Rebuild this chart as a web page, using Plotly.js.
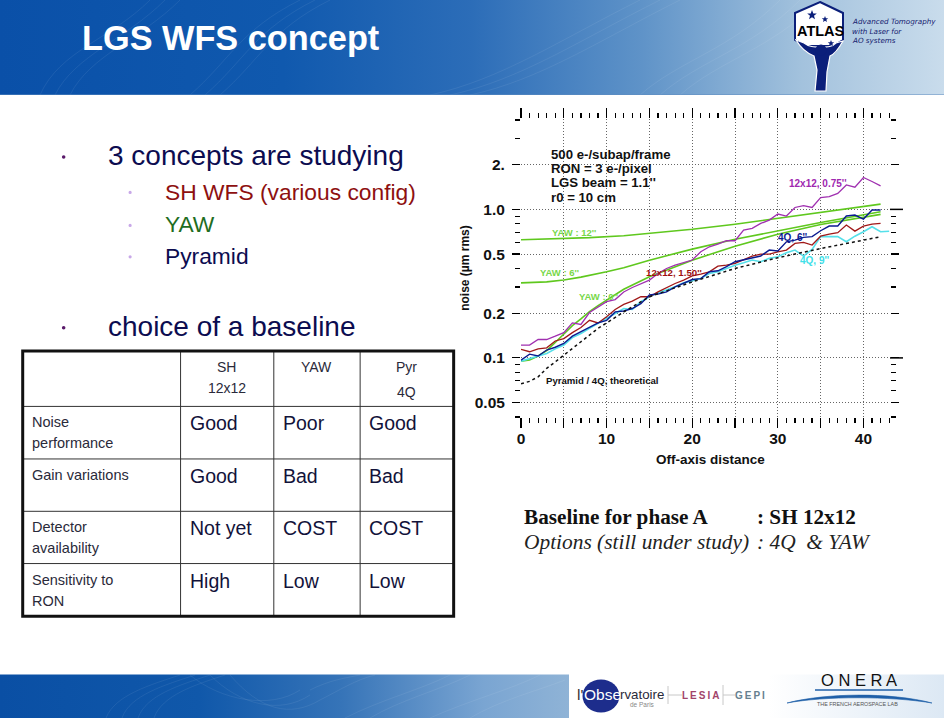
<!DOCTYPE html>
<html><head><meta charset="utf-8">
<script src="https://cdn.plot.ly/plotly-3.0.1.min.js"></script>
<style>
html,body{margin:0;padding:0;background:#fff;overflow:hidden}
#stage{position:relative;width:944px;height:718px}
#bg,#chart{position:absolute;left:0;top:0;width:944px;height:718px}
</style></head><body>
<div id="stage">
<svg id="bg" viewBox="0 0 944 718" xmlns="http://www.w3.org/2000/svg">
<defs>
<linearGradient id="h" x1="0" x2="1" y1="0" y2="0">
<stop offset="0" stop-color="#0a50a8"/><stop offset=".3" stop-color="#1059ae"/><stop offset=".5" stop-color="#2c6db8"/><stop offset=".68" stop-color="#5f93c8"/><stop offset=".85" stop-color="#a3c2dd"/><stop offset="1" stop-color="#c9dcec"/>
</linearGradient>
<linearGradient id="f" x1="0" x2="1" y1="0" y2="0">
<stop offset="0" stop-color="#0a4fa4"/><stop offset=".35" stop-color="#1058aa"/><stop offset=".6" stop-color="#3674b8"/><stop offset=".85" stop-color="#7aa5d2"/><stop offset="1" stop-color="#8fb3d6"/>
</linearGradient>
<linearGradient id="o" x1="0" x2="1" y1="0" y2="0">
<stop offset="0" stop-color="#ffffff"/><stop offset="1" stop-color="#dce8f4"/>
</linearGradient>
</defs>
<rect x="0" y="0" width="944" height="95" fill="url(#h)"/>
<rect x="0" y="674.5" width="569" height="43.5" fill="url(#f)"/>
<rect x="569" y="674.5" width="200" height="43.5" fill="#fff"/>
<rect x="769" y="674.5" width="175" height="43.5" fill="url(#o)"/>
<g fill="none" stroke="#fff" stroke-opacity=".1" stroke-width=".7">
<path d="M40 95C60 50 110 40 150 0"/><path d="M55 95C75 55 125 40 165 0"/><path d="M70 95C90 55 140 40 180 0"/>
<path d="M190 95C230 60 240 30 300 0"/><path d="M205 95C245 60 255 30 315 0"/><path d="M220 95C260 60 270 30 330 0"/>
<path d="M430 95C500 80 560 40 640 0"/><path d="M450 95C520 80 580 40 660 0"/><path d="M470 95C540 80 600 40 680 0"/>
<path d="M640 95C680 60 730 50 780 0"/><path d="M660 95C700 60 750 50 800 0"/><path d="M680 95C720 60 770 50 820 0"/>
<path d="M106 718C115 695 150 685 180 675"/><path d="M122 718C130 695 165 685 195 675"/><path d="M138 718C146 695 180 685 210 675"/><path d="M154 718C162 695 195 685 225 675"/>
<path d="M190 675C220 700 270 710 300 690"/><path d="M210 675C240 705 280 715 310 695"/><path d="M230 675C260 710 290 718 320 700"/>
<path d="M310 690C330 680 345 678 360 675"/><path d="M320 700C340 690 355 680 375 675"/><path d="M345 718C380 700 420 690 450 675"/><path d="M370 718C400 700 440 690 470 675"/><path d="M430 718C470 700 510 690 540 675"/><path d="M470 718C500 700 540 690 565 680"/>
</g>
<rect x="0" y="94" width="944" height="1" fill="#5e8cc0" opacity=".5"/>
<!-- ATLAS badge -->
<path d="M820 2L843 13V40L833 46H806L795 40V13Z" fill="#fff" stroke="#0b1f7a" stroke-width="2"/>
<path d="M796 40C802 50 809 54 814 56L817 70L815 91H826L827 72L830 56C835 54 838 50 843 41L836 43C832 47 828 47 821 47C814 47 809 47 804 43Z" fill="#0b1f7a" stroke="#fff" stroke-width="1.2"/>
<circle cx="821" cy="50" r="5.5" fill="#0b1f7a"/>
<path d="M812 10l1.3 3.4 3.5.2-2.8 2.2 1 3.4-3-2-3 2 1-3.4-2.8-2.2 3.5-.2zM825 16l.9 2.2 2.3.1-1.8 1.5.6 2.2-2-1.3-2 1.3.6-2.2-1.8-1.5 2.3-.1zM831 40l.9 2.2 2.3.1-1.8 1.5.6 2.2-2-1.3-2 1.3.6-2.2-1.8-1.5 2.3-.1z" fill="#0b1f7a"/>
<!-- Observatoire disc and separators -->
<ellipse cx="601" cy="696" rx="18.5" ry="16.5" fill="#1d2d8c"/>
<path d="M668 686V704M723 685V705M668 695H682M723 695H735" stroke="#c8c8c8" stroke-width="1" fill="none"/>
<!-- ONERA swoosh -->
<path d="M815 690H903" stroke="#1f5fa8" stroke-width="1.6" fill="none"/>
<path d="M787 703C825 693 890 692 932 703C890 696 825 696 787 703Z" fill="#1f5fa8" stroke="#1f5fa8" stroke-width=".6"/>
</svg>
<div id="chart"></div>
</div>
<script>
// ---- chart data ----
var offAxis = [0,1,2,3,4,5,6,7,8,9,10,11,12,13,14,15,16,17,18,19,20,21,22,23,24,25,26,27,28,29,30,31,32,33,34,35,36,37,38,39,40,41,42];
var sh075 = [.122,.122,.133,.133,.140,.148,.172,.168,.202,.221,.239,.247,.278,.298,.314,.334,.370,.400,.421,.439,.456,.518,.560,.584,.615,.615,.725,.745,.804,.847,.930,.902,1.03,1.06,1.03,1.20,1.22,1.28,1.46,1.41,1.64,1.54,1.44];
var sh150 = [.114,.110,.115,.117,.130,.135,.148,.160,.179,.172,.189,.212,.229,.241,.258,.258,.278,.298,.317,.334,.357,.366,.380,.415,.421,.433,.460,.485,.500,.500,.518,.532,.590,.600,.575,.660,.682,.696,.784,.714,.772,.796,.804];
var q4_6 = [.0965,.106,.103,.113,.118,.125,.140,.150,.162,.172,.179,.204,.207,.215,.232,.265,.269,.278,.301,.320,.337,.342,.380,.386,.411,.444,.456,.468,.485,.532,.524,.605,.621,.648,.655,.718,.772,.772,.902,.916,.861,.990,.990];
var offAxis9 = [0,1,2,3,4,5,6,7,8,9,10,11,12,13,14,15,16,17,18,19,20,21,22,23,24,25,26,27,28,29,30,31,32,33,34,35,36,37,38,39,40,41,42,43];
var q4_9 = [.095,.099,.102,.107,.115,.122,.137,.146,.158,.170,.184,.199,.215,.212,.239,.258,.274,.286,.301,.320,.329,.342,.370,.380,.400,.421,.437,.456,.444,.468,.480,.511,.532,.485,.538,.655,.655,.655,.605,.660,.707,.764,.707,.712];
var yaw12X = [0,4,8,12,15,20,25,30,35,42];
var yaw12 = [.625,.635,.645,.665,.69,.735,.795,.87,.95,1.085];
var yaw6X = [0,3,5,7,10,12,15,20,25,30,35,42];
var yaw6 = [.32,.325,.335,.35,.38,.405,.455,.54,.63,.72,.815,.965];
var yaw0X = [0,1,2,3,4,5,6,7,8,9,10,12,15,20,25,30,35,42];
var yaw0 = [.095,.097,.103,.112,.127,.145,.165,.183,.205,.225,.245,.29,.352,.455,.565,.68,.79,.925];
var pyrX = [0,1,2,3,4,5,6,7,8,9,10,12,15,20,25,30,35,42];
var pyr = [.067,.0695,.0745,.085,.094,.104,.115,.128,.142,.158,.172,.204,.258,.325,.40,.472,.545,.654];
var xTicks = [0,5,10,15,20,25,30,35,40];
var xLabels = ['0','','10','','20','','30','','40'];
var yTicks = [.05,.1,.2,.5,1,2];
var yLabels = ['0.05','0.1','0.2','0.5','1.0','2.'];
var yMinor = [.04,.06,.07,.08,.09,.3,.4,.6,.7,.8,.9,3,4];
// ---- table text ----
var colHead = [['SH','12x12'],['YAW'],['Pyr','4Q']];
var rowHead = [['Noise','performance'],['Gain variations'],['Detector','availability'],['Sensitivity to','RON']];
var cells = [['Good','Poor','Good'],['Good','Bad','Bad'],['Not yet','COST','COST'],['High','Low','Low']];

var W=944,H=718,L=520.7,R=54,T=119,B=300.7;
function px(x){return (x-L)/(W-L-R);}
function py(y){return 1-(y-T)/(H-T-B);}
var A='Liberation Sans, Arial, sans-serif', S='Liberation Serif, Times New Roman, serif';
var anns=[],shapes=[];
function t(text,x,y,size,color,o){o=o||{};anns.push({text:text,xref:'paper',yref:'paper',x:px(x),y:py(y),xanchor:o.a||'left',yanchor:'middle',showarrow:false,align:o.a||'left',
  font:{family:o.f||A,size:size,color:color,weight:o.b?700:400,style:o.i?'italic':'normal'},textangle:o.r||0,borderpad:0,borderwidth:0});}
function line(x0,y0,x1,y1,c,w){shapes.push({type:'line',xref:'paper',yref:'paper',x0:px(x0),y0:py(y0),x1:px(x1),y1:py(y1),line:{color:c,width:w},layer:'above'});}
function dot(x,y,r,c){shapes.push({type:'circle',xref:'paper',yref:'paper',x0:px(x-r),x1:px(x+r),y0:py(y-r),y1:py(y+r),fillcolor:c,line:{width:0}});}

// slide text
t('LGS WFS concept',81,38,34.3,'#ffffff',{b:1});
var navy='#0c0c50';
t('3 concepts are studying',107,156,28,navy);
t('SH WFS (various config)',164,192,22.8,'#8e1010');
t('YAW',164,224,22.8,'#1f6e1f');
t('Pyramid',164,256,22.8,navy);
t('choice of a baseline',107,327,28,navy);
dot(63,157,1.8,'#5a1a6a');dot(63,328,1.8,'#5a1a6a');
dot(129.5,192.5,1.6,'#c8a8e8');dot(129.5,225.5,1.6,'#c8a8e8');dot(129.5,257,1.6,'#c8a8e8');
t('Baseline for phase A',524,517,21.2,'#111',{f:S,b:1});
t(': SH 12x12',757,517,21.2,'#111',{f:S,b:1});
t('Options (still under study)',524,542,21.4,'#222',{f:S,i:1});
t(': 4Q  &amp; YAW',757,542,21.4,'#222',{f:S,i:1});
['Advanced Tomography','with Laser for','AO systems'].forEach(function(s,i){t(s,852,[21,31,40][i],7.2,'#14206e',{f:'DejaVu Sans, sans-serif',i:1});});
t('ATLAS',820.5,31,14.5,'#000',{b:1,a:'center'});
// footer logo text
t("l'",577,695,15.5,'#333');t('Obse',584,695,15.5,'#fff');t('rvatoire',620,695,13.3,'#2a2a3a');
t('de Paris',642,705.5,6.5,'#888',{a:'center'});
t('L\u2009E\u2009S\u2009I\u2009A',700,696,10,'#a2446a',{a:'center',b:1});
t('G\u2009E\u2009P\u2009I',749.5,696,10,'#66808f',{a:'center',b:1});
t('O N E R A',859,681,16.5,'#111',{a:'center'});
t('THE FRENCH AEROSPACE LAB',857,705,5.4,'#555',{a:'center'});

// table
var xs=[22,180,273.3,359.7,453.3], ys=[351.3,406.7,459.3,511.7,564,616.7];
[1,2,3].forEach(function(i){line(xs[i],ys[0],xs[i],ys[5],'#333',1);});
[1,2,3,4].forEach(function(i){line(xs[0],ys[i],xs[4],ys[i],'#333',1);});
shapes.push({type:'rect',xref:'paper',yref:'paper',x0:px(xs[0]),x1:px(xs[4]),y0:py(ys[0]),y1:py(ys[5]),line:{color:'#111',width:3},layer:'above'});
var colC=[226,316,406];
colHead.forEach(function(h,i){h.forEach(function(s,j){t(s,colC[i],j==0?367:(i==2?392:388),14,'#2a2a3a',{a:'center'});});});
var rowY=[[422,443],[475],[527,548],[580,601]];
rowHead.forEach(function(h,i){h.forEach(function(s,j){t(s,31,rowY[i][j],14.5,'#2a2a3a');});});
var valX=[189,282.5,368.5],valY=[423,476,528,581];
cells.forEach(function(r,i){r.forEach(function(s,j){t(s,valX[j],valY[i],19.5,'#12123a');});});

// chart labels
['500 e-/subap/frame','RON = 3 e-/pixel',"LGS beam = 1.1''",'r0 = 10 cm'].forEach(function(s,i){t(s,551,[155,169,183,198][i],13.2,'#111',{b:1});});
t("YAW : 12''",552,233,9.5,'#78d84a',{b:1});
t("YAW : 6''",540,273,9.5,'#78d84a',{b:1});
t("YAW : 0''",579,297,9.5,'#78d84a',{b:1});
t("12x12, 1.50''",645.7,273,9.7,'#a01010',{b:1});
t("12x12, 0.75''",789,184,10,'#a028b0',{b:1});
t("4Q, 6''",777.7,238,10,'#0c1a90',{b:1});
t("4Q, 9''",800,261,10,'#40e0e8',{b:1});
t('Pyramid / 4Q, theoretical',545.7,381,9.6,'#111',{b:1});
t('Off-axis distance',710,460,13.5,'#111',{b:1,a:'center'});
// long right-hand ticks
shapes.push({type:'line',xref:'paper',yref:'y',x0:1,x1:px(903),y0:1,y1:1,line:{color:'#000',width:1.5}});
shapes.push({type:'line',xref:'paper',yref:'y',x0:1,x1:px(903),y0:.1,y1:.1,line:{color:'#000',width:1.5}});

function tr(name,x,y,c,w,dash){return {type:'scatter',mode:'lines',name:name,x:x,y:y,line:{color:c,width:w,dash:dash||'solid',shape:'linear'},hoverinfo:'name+x+y'};}
var traces=[
 tr('YAW 12"',yaw12X,yaw12,'#5fc81e',1.6),
 tr('YAW 6"',yaw6X,yaw6,'#5fc81e',1.6),
 tr('YAW 0"',yaw0X,yaw0,'#5fc81e',1.6),
 tr('4Q 9"',offAxis9,q4_9,'#55e0ea',1.6),
 tr('12x12 0.75"',offAxis,sh075,'#a030b0',1.3),
 tr('12x12 1.50"',offAxis,sh150,'#a01818',1.3),
 tr('4Q 6"',offAxis,q4_6,'#0a1a90',1.4),
 tr('Pyramid / 4Q theoretical',pyrX,pyr,'#111',1.5,'3px,3px')
];
var tickFont={family:A,size:15.5,color:'#111',weight:700};
var layout={width:W,height:H,margin:{l:L,r:R,t:T,b:B,pad:0},paper_bgcolor:'rgba(0,0,0,0)',plot_bgcolor:'rgba(0,0,0,0)',showlegend:false,
 annotations:anns,shapes:shapes,
 xaxis:{range:[0,43.1],tickmode:'array',tickvals:xTicks,ticktext:xLabels,ticks:'outside',ticklen:10,tickwidth:1.2,tickcolor:'#000',ticklabelstandoff:-3,
   showline:false,mirror:'ticks',zeroline:false,showgrid:true,gridcolor:'#666',griddash:'1px,2px',gridwidth:1,tickfont:tickFont,
   minor:{dtick:1,ticks:'outside',ticklen:5,tickwidth:1.2,tickcolor:'#000',showgrid:false}},
 yaxis:{type:'log',range:[Math.log10(.04),Math.log10(4.06)],tickmode:'array',tickvals:yTicks,ticktext:yLabels,ticks:'outside',ticklen:8,tickwidth:1.2,tickcolor:'#000',ticklabelstandoff:4,
   showline:false,mirror:'ticks',zeroline:false,showgrid:true,gridcolor:'#666',griddash:'1px,2px',gridwidth:1,tickfont:tickFont,
   minor:{tickvals:yMinor,ticks:'outside',ticklen:5,tickwidth:1.2,tickcolor:'#000',showgrid:false},
   title:{text:'noise (µm rms)',font:{family:A,size:12,color:'#111',weight:700},standoff:2}}
};
Plotly.newPlot('chart',traces,layout,{displayModeBar:false,staticPlot:true,responsive:false});
</script>
</body></html>
